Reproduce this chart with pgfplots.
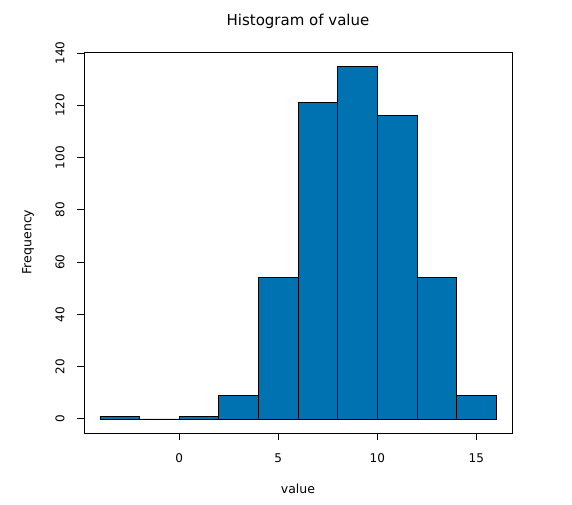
\documentclass[border=0pt]{standalone}
\usepackage{pgfplots}
\pgfplotsset{compat=1.18}
\usepackage{fontspec}
\setmainfont{DejaVu Sans}
\definecolor{barblue}{RGB}{0,114,178}
\begin{document}
\begin{tikzpicture}
  \useasboundingbox (0pt,0pt) rectangle (572pt,-505pt);
  \begin{axis}[
    at={(84pt,-433pt)}, anchor=south west,
    scale only axis, width=428pt, height=381pt,
    xmin=-4.8, xmax=16.8, ymin=-5.4, ymax=140.4,
    xtick={0,5,10,15}, ytick={0,20,...,140},
    xtick pos=left, ytick pos=left,
    tick align=outside, major tick length=7pt,
    tick style={black, line width=0.8pt},
    axis line style={line width=0.9pt},
    /pgf/number format/assume math mode=true,
    ticklabel style={font=\fontsize{12}{14}\selectfont},
    xticklabel style={yshift=-10pt},
    yticklabel style={rotate=90, anchor=south, yshift=9pt},
    scaled ticks=false,
  ]
    \addplot[ybar interval, fill=barblue, draw=black, line width=0.7pt] coordinates {
      (-4,1) (-2,0) (0,1) (2,9) (4,54) (6,121) (8,135) (10,116) (12,54) (14,9) (16,9)
    };
  \end{axis}
  \node[font=\fontsize{15}{17}\selectfont] at (298pt,-21pt) {Histogram of value};
  \node[font=\fontsize{12.5}{14}\selectfont] at (298pt,-489pt) {value};
  \node[font=\fontsize{12.5}{14}\selectfont, rotate=90] at (28pt,-242pt) {Frequency};
\end{tikzpicture}
\end{document}
